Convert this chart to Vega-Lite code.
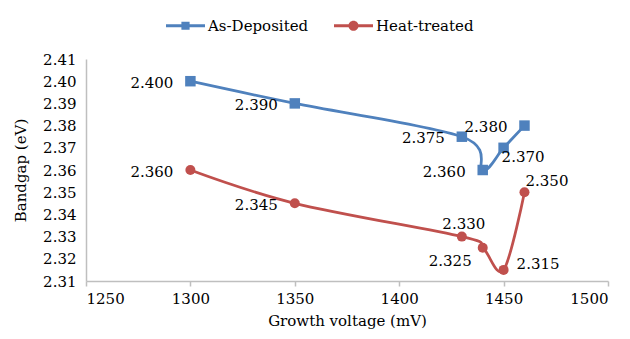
{
  "$schema": "https://vega.github.io/schema/vega-lite/v6.json",
  "width": 522,
  "height": 222,
  "autosize": {"type": "none"},
  "padding": {"left": 86, "top": 59, "right": 22, "bottom": 58},
  "background": "white",
  "config": {
    "view": {"stroke": null},
    "font": "DejaVu Serif",
    "text": {"font": "DejaVu Serif"},
    "axis": {
      "labelFont": "DejaVu Serif",
      "labelFontSize": 15,
      "labelColor": "#000000",
      "titleFont": "DejaVu Serif",
      "titleFontSize": 15,
      "titleFontWeight": "normal",
      "titleColor": "#000000",
      "domainColor": "#bfbfbf",
      "domainWidth": 1.5,
      "tickColor": "#bfbfbf",
      "tickWidth": 1.5,
      "grid": false
    },
    "legend": {
      "labelFont": "DejaVu Serif",
      "labelFontSize": 15,
      "labelColor": "#000000"
    }
  },
  "data": {
    "values": [
      {"series": "As-Deposited", "v": 1300, "bg": 2.400},
      {"series": "As-Deposited", "v": 1350, "bg": 2.390},
      {"series": "As-Deposited", "v": 1430, "bg": 2.375},
      {"series": "As-Deposited", "v": 1440, "bg": 2.360},
      {"series": "As-Deposited", "v": 1450, "bg": 2.370},
      {"series": "As-Deposited", "v": 1460, "bg": 2.380},
      {"series": "Heat-treated", "v": 1300, "bg": 2.360},
      {"series": "Heat-treated", "v": 1350, "bg": 2.345},
      {"series": "Heat-treated", "v": 1430, "bg": 2.330},
      {"series": "Heat-treated", "v": 1440, "bg": 2.325},
      {"series": "Heat-treated", "v": 1450, "bg": 2.315},
      {"series": "Heat-treated", "v": 1460, "bg": 2.350}
    ]
  },
  "encoding": {
    "x": {
      "field": "v",
      "type": "quantitative",
      "scale": {"domain": [1250, 1500], "nice": false, "zero": false},
      "axis": {
        "title": "Growth voltage (mV)",
        "values": [1250, 1300, 1350, 1400, 1450, 1500],
        "format": "d",
        "tickSize": 5,
        "labelPadding": 5,
        "titlePadding": 7
      }
    },
    "y": {
      "field": "bg",
      "type": "quantitative",
      "scale": {"domain": [2.31, 2.41], "nice": false, "zero": false},
      "axis": {
        "title": "Bandgap (eV)",
        "values": [2.31, 2.32, 2.33, 2.34, 2.35, 2.36, 2.37, 2.38, 2.39, 2.40, 2.41],
        "format": ".2f",
        "ticks": false,
        "tickSize": 0,
        "labelPadding": 10,
        "titlePadding": 14
      }
    }
  },
  "layer": [
    {
      "mark": {"type": "line", "interpolate": "cardinal", "strokeWidth": 2.75},
      "encoding": {
        "color": {
          "field": "series",
          "type": "nominal",
          "scale": {"domain": ["As-Deposited", "Heat-treated"], "range": ["#4f81bd", "#c0504d"]},
          "legend": {
            "orient": "none",
            "legendX": 80,
            "legendY": -53,
            "direction": "horizontal",
            "title": null,
            "padding": 0,
            "labelOffset": 3,
            "columnPadding": 25,
            "symbolSize": 1521,
            "symbolStrokeWidth": 0,
            "encode": {
              "symbols": {
                "update": {
                  "shape": {"signal": "datum.value == 'As-Deposited' ? 'M-1,-0.08H1V0.08H-1Z M-0.21,-0.21H0.21V0.21H-0.21Z' : 'M-1,-0.08H1V0.08H-1Z M-0.26,0A0.26,0.26 0 1,1 0.26,0A0.26,0.26 0 1,1 -0.26,0Z'"},
                  "fill": {"signal": "datum.value == 'As-Deposited' ? '#4f81bd' : '#c0504d'"},
                  "fillOpacity": {"value": 1},
                  "strokeWidth": {"value": 0}
                }
              }
            }
          }
        }
      }
    },
    {
      "transform": [{"filter": "datum.series == 'As-Deposited'"}],
      "mark": {"type": "point", "shape": "square", "filled": true, "opacity": 1, "size": 110, "color": "#4f81bd"}
    },
    {
      "transform": [{"filter": "datum.series == 'Heat-treated'"}],
      "mark": {"type": "point", "shape": "circle", "filled": true, "opacity": 1, "size": 100, "color": "#c0504d"}
    },
    {
      "transform": [{"filter": "(datum.series == 'As-Deposited' && datum.v != 1450) || (datum.series == 'Heat-treated' && datum.v <= 1350)"}],
      "mark": {"type": "text", "align": "right", "baseline": "middle", "dx": -17, "dy": 1.5, "fontSize": 15, "color": "#000000"},
      "encoding": {"text": {"field": "bg", "type": "quantitative", "format": ".3f"}}
    },
    {
      "transform": [{"filter": "datum.series == 'As-Deposited' && datum.v == 1450"}],
      "mark": {"type": "text", "align": "left", "baseline": "middle", "dx": -2, "dy": 9, "fontSize": 15, "color": "#000000"},
      "encoding": {"text": {"field": "bg", "type": "quantitative", "format": ".3f"}}
    },
    {
      "transform": [{"filter": "datum.series == 'Heat-treated' && datum.v == 1430"}],
      "mark": {"type": "text", "align": "center", "baseline": "middle", "dx": 2, "dy": -13, "fontSize": 15, "color": "#000000"},
      "encoding": {"text": {"field": "bg", "type": "quantitative", "format": ".3f"}}
    },
    {
      "transform": [{"filter": "datum.series == 'Heat-treated' && datum.v == 1440"}],
      "mark": {"type": "text", "align": "right", "baseline": "middle", "dx": -11, "dy": 13, "fontSize": 15, "color": "#000000"},
      "encoding": {"text": {"field": "bg", "type": "quantitative", "format": ".3f"}}
    },
    {
      "transform": [{"filter": "datum.series == 'Heat-treated' && datum.v == 1450"}],
      "mark": {"type": "text", "align": "left", "baseline": "middle", "dx": 13, "dy": -6, "fontSize": 15, "color": "#000000"},
      "encoding": {"text": {"field": "bg", "type": "quantitative", "format": ".3f"}}
    },
    {
      "transform": [{"filter": "datum.series == 'Heat-treated' && datum.v == 1460"}],
      "mark": {"type": "text", "align": "left", "baseline": "middle", "dx": 1, "dy": -11, "fontSize": 15, "color": "#000000"},
      "encoding": {"text": {"field": "bg", "type": "quantitative", "format": ".3f"}}
    }
  ]
}
